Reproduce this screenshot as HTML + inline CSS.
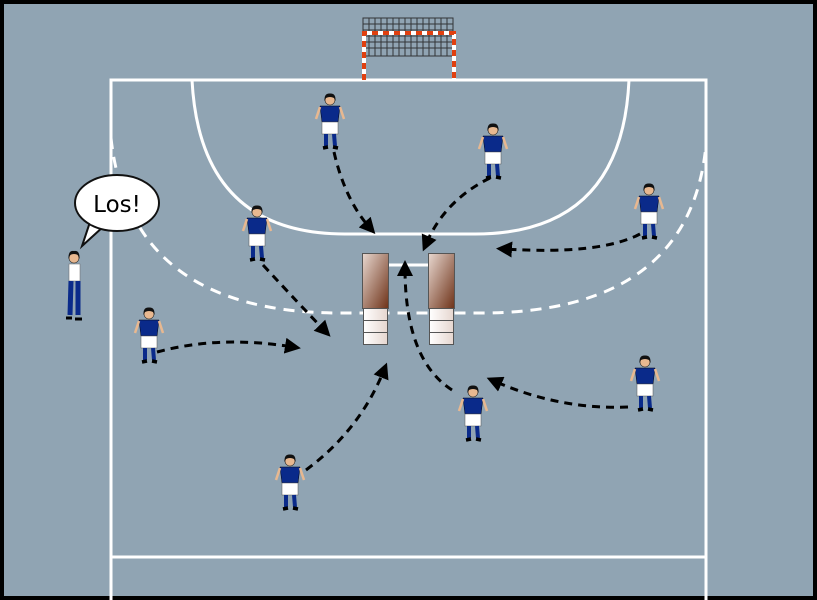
<!DOCTYPE html>
<html><head><meta charset="utf-8"><style>
html,body{margin:0;padding:0;background:#000}
svg{display:block}
</style></head><body>
<svg width="817" height="600" viewBox="0 0 817 600" xmlns="http://www.w3.org/2000/svg">
<defs>
<linearGradient id="br" x1="0" y1="0" x2="1" y2="1"><stop offset="0" stop-color="#e8d8d0"/><stop offset="1" stop-color="#6e3218"/></linearGradient>
<linearGradient id="wh" x1="0" y1="0" x2="1" y2="0"><stop offset="0" stop-color="#fff"/><stop offset="1" stop-color="#e6d6cf"/></linearGradient>
<marker id="ah" markerWidth="16" markerHeight="16" refX="8" refY="8" orient="auto" markerUnits="userSpaceOnUse" viewBox="0 0 16 16"><path d="M0,0 L16,8 L0,16 z" fill="#000"/></marker>
<g id="pl">
  <circle cx="0" cy="0" r="5" fill="#e8b890" stroke="#222" stroke-width="0.6"/>
  <path d="M-5.5,1 Q-6,-7 0,-6.5 Q6,-7 5.5,1 L4,-2 Q0,-4 -4,-2z" fill="#111"/>
  <path d="M-10,6 L10,6 L8,22 L-8,22z" fill="#0a2a8a" stroke="#001" stroke-width="0.5"/>
  <path d="M-10,7 L-14,19" stroke="#e8b890" stroke-width="2.5"/>
  <path d="M10,7 L14,19" stroke="#e8b890" stroke-width="2.5"/>
  <rect x="-8" y="22" width="16" height="12" fill="#fff" stroke="#555" stroke-width="0.5"/>
  <path d="M-4,34 L-4,46 M4,34 L5,46" stroke="#0a2a8a" stroke-width="4"/>
  <path d="M-7,48 L-2,47 M3,47 L8,48" stroke="#000" stroke-width="3.5"/>
</g>
</defs>
<rect x="0" y="0" width="817" height="600" fill="#000"/>
<rect x="4" y="4" width="809" height="592" fill="#90a4b3"/>
<!-- court -->
<g fill="none" stroke="#fff" stroke-width="3">
  <path d="M111,600 L111,80 L706,80 L706,600"/>
  <path d="M111,557 L706,557"/>
  <path d="M192,80 Q200,234 345,234 L475,234 Q622,234 629,80"/>
</g>
<path d="M111,138 Q130,313 340,313 L480,313 Q690,313 706,145" fill="none" stroke="#fff" stroke-width="3" stroke-dasharray="11,8"/>
<!-- goal -->
<g stroke="#222" stroke-width="1" opacity="0.85">
  <rect x="363" y="18" width="90" height="38" fill="none"/>
  <path d="M369,18V56M375,18V56M381,18V56M387,18V56M393,18V56M399,18V56M405,18V56M411,18V56M417,18V56M423,18V56M429,18V56M435,18V56M441,18V56M447,18V56M363,24H453M363,30H453M363,36H453M363,42H453M363,48H453"/>
</g>
<path d="M364,80 L364,33 L454,33 L454,80" fill="none" stroke="#fff" stroke-width="4"/>
<path d="M364,80 L364,33 L454,33 L454,80" fill="none" stroke="#e04010" stroke-width="4" stroke-dasharray="6,5"/>
<!-- mats -->
<line x1="389" y1="265" x2="428" y2="265" stroke="#fff" stroke-width="3"/>
<rect x="362.5" y="253.5" width="26" height="55" fill="url(#br)" stroke="#555"/>
<rect x="428.5" y="253.5" width="26" height="55" fill="url(#br)" stroke="#555"/>
<g fill="url(#wh)" stroke="#555">
<rect x="363.5" y="308.5" width="24" height="12"/><rect x="363.5" y="320.5" width="24" height="12"/><rect x="363.5" y="332.5" width="24" height="12"/>
<rect x="429.5" y="308.5" width="24" height="12"/><rect x="429.5" y="320.5" width="24" height="12"/><rect x="429.5" y="332.5" width="24" height="12"/>
</g>
<!-- arrows -->
<g fill="none" stroke="#000" stroke-width="3" stroke-dasharray="8,6" marker-end="url(#ah)">
  <path d="M334,152 Q345,200 370,228"/>
  <path d="M490,178 Q445,200 426,244"/>
  <path d="M640,234 Q600,255 504,249"/>
  <path d="M263,265 Q300,305 325,331"/>
  <path d="M157,352 Q220,335 293,347"/>
  <path d="M628,407 Q560,410 494,381"/>
  <path d="M452,390 Q405,360 405,268"/>
  <path d="M306,470 Q360,430 384,370"/>
</g>
<!-- players -->
<use href="#pl" x="330" y="100"/>
<use href="#pl" x="493" y="130"/>
<use href="#pl" x="649" y="190"/>
<use href="#pl" x="257" y="212"/>
<use href="#pl" x="149" y="314"/>
<use href="#pl" x="645" y="362"/>
<use href="#pl" x="473" y="392"/>
<use href="#pl" x="290" y="461"/>
<!-- coach -->
<g>
  <circle cx="74" cy="258" r="5" fill="#e8b890" stroke="#222" stroke-width="0.6"/>
  <path d="M68.5,259 Q68,250 74,251 Q80,250 79.5,259 L78,255 Q74,253 70,255z" fill="#111"/>
  <rect x="69" y="264" width="11" height="17" fill="#fff" stroke="#666" stroke-width="0.5"/>
  <path d="M71,281 L70,315 M78,281 L78,315" stroke="#0a2a8a" stroke-width="5"/>
  <path d="M66,318 L72,318 M75,319 L82,319" stroke="#000" stroke-width="3"/>
</g>
<!-- speech bubble -->
<path d="M90,222 L82,246 L104,226" fill="#fff" stroke="#111" stroke-width="2"/>
<ellipse cx="117" cy="203" rx="42" ry="28" fill="#fff" stroke="#111" stroke-width="2"/>
<path d="M91,222 L103,226" stroke="#fff" stroke-width="4"/>
<text x="117" y="212" text-anchor="middle" font-family="DejaVu Sans, Liberation Sans, sans-serif" font-size="23" fill="#000">Los!</text>
</svg>
</body></html>
